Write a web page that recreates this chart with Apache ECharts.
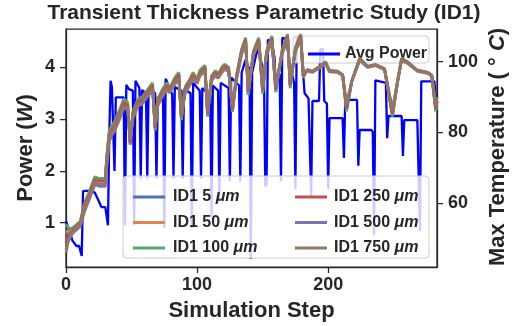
<!DOCTYPE html>
<html><head><meta charset="utf-8">
<script src="https://cdn.jsdelivr.net/npm/echarts@6/dist/echarts.min.js"></script>
<style>html,body{margin:0;padding:0;background:#fff}#c{width:517px;height:326px}</style>
</head><body><div id="c"></div><script>
const FONT = '"Liberation Sans", Arial, Helvetica, sans-serif';
const INK = '#262626';

// ---- data ----
const xTicks = [0, 100, 200];
const powerTicks = [1, 2, 3, 4];
const tempTicks = [60, 80, 100];

const powerSteps = [0,1,5,8,10,12,13,18,22,25,27,30,31,32,33,34,35,36,37,38,44,45,46,48,51,52,53,56,57,58,61,62,63,68,69,70,74,75,76,81,82,83,88,89,90,95,96,97,102,103,104,110,111,112,116,117,118,124,125,126,132,133,134,137,140,141,142,146,148,151,152,153,154,157,159,160,162,163,164,165,168,171,174,175,176,179,180,182,185,186,187,188,193,194,196,197,199,200,201,211,212,213,222,223,224,233,234,235,236,237,244,245,246,256,257,258,268,269,270,271,281,283];
const powerValues = [1.03,1.0,0.65,0.55,0.55,0.36,1.61,1.62,1.58,1.42,1.3,1.3,1.28,0.95,2.69,3.74,3.62,3.6,2.0,3.42,3.42,0.95,3.66,3.58,3.55,0.95,3.74,3.6,1.85,3.56,3.5,1.85,3.6,3.5,1.85,3.42,3.45,0.9,3.78,3.48,1.85,3.62,3.55,1.85,3.58,3.5,0.9,3.7,3.55,1.85,3.6,3.45,1.1,3.65,3.55,1.45,3.7,3.6,1.8,3.8,3.65,1.8,3.9,4.15,3.95,0.3,3.9,4.35,4.2,3.9,1.7,1.75,4.53,4.5,4.2,3.7,3.9,3.85,1.8,4.57,4.55,4.0,3.7,1.65,4.57,4.55,4.2,3.5,3.4,3.4,1.5,3.35,3.35,4.35,4.35,3.35,3.3,1.65,3.02,3.02,2.25,3.37,3.37,2.1,2.79,2.79,2.75,0.76,3.75,3.75,3.7,2.63,3.06,3.06,2.29,2.98,2.98,2.95,0.84,3.73,3.73,3.15];

const tempSteps = [0,2,5,11,14,18,22,25,30,31,33,35,37,41,44,47,49,51,55,58,62,66,68,70,74,77,79,83,86,88,91,95,97,100,102,106,108,111,114,116,119,121,124,127,130,134,137,139,143,147,150,153,157,160,165,169,171,175,179,181,184,188,194,198,201,207,211,214,218,224,230,236,243,249,253,256,261,268,276,279,282,283];

const temp5 = [51,51.5,52.6,54.6,59.5,63,67,66.5,66.5,72.3,
79.8,81.3,82.3,85.8,88.8,88,77,85.4,89,89.5,
91.5,93.5,81.1,89,92,93.5,92.2,95,96.5,84.2,
92.5,95,96.5,94.6,97,98.5,85.1,95.5,97.1,96.1,
98,98.8,98.1,86.4,95.6,103.1,106.3,91.2,102.6,106.3,
91.6,102.6,106.8,92,103.1,107.4,93.2,103.6,107.4,95.9,
97.6,97.2,98.7,99.8,97.4,97.2,96.3,86.6,94.5,100.8,
98.6,99.1,97.9,85.1,94.5,100.8,99.7,97.5,96.9,96.1,
86.6,88.8];
const temp50 = [52,52,52.8,54.8,59.7,63.2,67.2,66.7,66.7,72.6,
80,81.6,82.6,86,89,88.2,76.8,85.6,89.2,89.7,
91.7,93.7,80.9,89.2,92.2,93.7,92.3,95.2,96.7,84,
92.7,95.2,96.7,94.8,97.2,98.7,84.9,95.7,97.3,96.3,
98.2,99,98.3,86.2,95.8,103.3,106.5,91,102.8,106.5,
91.4,102.8,107,91.8,103.3,107.6,93,103.8,107.6,95.8,
97.7,97.3,98.8,99.9,97.5,97.3,96.3,86.4,94.5,100.9,
98.7,99.2,98,84.9,94.5,100.9,99.8,97.6,97,96.2,
86.4,88.7];
const temp100 = [54,53,53,55,60,63.5,67.5,67,67,73,
80.5,82,83,86.5,89.5,88.5,76.5,86,89.5,90,
92,94,80.5,89.5,92.5,94,92.5,95.5,97,83.5,
93,95.5,97,95,97.5,99,84.5,96,97.5,96.5,
98.5,99.3,98.5,85.8,96,103.5,106.8,90.6,103,106.8,
91,103,107.3,91.4,103.5,107.8,92.5,104,107.8,95.5,
97.8,97.3,98.8,100,97.5,97.3,96.3,86,94.5,101,
98.7,99.2,98,84.5,94.5,101,99.8,97.6,97,96.2,
86,88.5];
const temp250 = [49,51,52.5,54.5,59.3,62.8,66.8,66.3,66.3,72,
79.5,81,82,85.5,88.5,87.8,77,85.2,88.8,89.3,
91.3,93.3,81.3,88.8,91.8,93.3,92,94.8,96.3,84.5,
92.3,94.8,96.3,94.5,96.8,98.4,85.3,95.4,97,96,
97.8,98.7,98,86.6,95.5,103,106.2,91.5,102.5,106.2,
92,102.5,106.7,92.3,103,107.3,93.5,103.5,107.3,96,
97.7,97.2,98.7,99.8,97.4,97.2,96.3,86.8,94.5,100.8,
98.6,99.1,97.9,85.3,94.6,100.8,99.7,97.5,96.9,96.1,
86.8,89];
const temp500 = [47,49.5,51.5,53.5,57.5,61.3,65.3,64.8,64.8,70,
77.5,79.2,80.3,83.8,86.8,86.5,77.8,83.8,87.5,88,
90,92,82.3,87.5,90.5,92,91.2,93.6,95.1,85.3,
91.2,93.7,95.1,93.8,95.9,97.4,86.3,94.5,96.2,95.3,
97,97.8,97.3,87.6,94.7,102.2,105.2,92.5,101.7,105.3,
92.8,101.8,105.8,93.2,102.3,106.4,94.3,102.8,106.4,96.7,
97.4,97,98.4,99.5,97.1,97,96.1,87.8,94.4,100.4,
98.4,98.9,97.7,86.3,94.7,100.4,99.4,97.3,96.7,95.9,
87.8,89.9];
const temp750 = [46,50,52,54,58.5,62,66,65.5,65.5,71,
78.5,80,81,84.5,87.5,87,78,84.5,88,88.5,
90.5,92.5,82.5,88,91,92.5,91.5,94,95.5,85.5,
91.5,94,95.5,94,96.2,97.7,86.5,94.8,96.5,95.5,
97.2,98,97.5,87.8,95,102.5,105.5,92.6,102,105.6,
93,102,106.1,93.4,102.5,106.7,94.5,103,106.7,96.8,
97.5,97.1,98.5,99.6,97.2,97.1,96.2,88,94.5,100.5,
98.5,99,97.8,86.5,94.8,100.5,99.5,97.4,96.8,96,
88,90];

const thicknessNames = ['ID1 5 μm','ID1 50 μm','ID1 100 μm','ID1 250 μm','ID1 500 μm','ID1 750 μm'];
const tempSets = [temp5, temp50, temp100, temp250, temp500, temp750];
const tempColors = ['#4C72B0','#DD8452','#55A868','#C44E52','#8172B3','#937860'];

if (powerSteps.length !== powerValues.length) throw new Error('power length ' + powerSteps.length + ' vs ' + powerValues.length);
tempSets.forEach((t, i) => { if (t.length !== tempSteps.length) throw new Error('temp ' + i + ' length ' + t.length); });

const zip = (xs, ys) => xs.map((x, i) => [x, ys[i]]);

const chart = echarts.init(document.getElementById('c'), null, {renderer: 'canvas'});

const tickLabel = {fontSize: 18, fontWeight: 'bold', color: INK, fontFamily: FONT};
const tick = {show: true, inside: false, length: 6, lineStyle: {color: INK, width: 1.25}};
const italicRich = {i: {fontStyle: 'italic', fontWeight: 'bold', fontSize: 16, color: INK, fontFamily: FONT, lineHeight: 18}};
const legendText = {fontSize: 16, fontWeight: 'bold', color: INK, fontFamily: FONT, lineHeight: 18, padding: [0, 0, 0, 3], rich: italicRich};

const series = [{
  name: 'Avg Power', type: 'line', yAxisIndex: 0, data: zip(powerSteps, powerValues),
  color: '#0000FF', lineStyle: {width: 2.3, color: '#0000FF'}, showSymbol: false, symbol: 'none', z: 1
}];
tempSets.forEach((t, i) => {
  series.push({
    name: thicknessNames[i], type: 'line', yAxisIndex: 1, data: zip(tempSteps, t),
    color: tempColors[i], lineStyle: {width: 2.8, color: tempColors[i]}, showSymbol: false, symbol: 'none', z: 5
  });
});

const textStyleBase = (size) => ({fontSize: size, fontWeight: 'bold', fontFamily: FONT, fill: INK,
  align: 'center', verticalAlign: 'middle', textAlign: 'center', textVerticalAlign: 'middle'});

chart.setOption({
  animation: false,
  backgroundColor: '#fff',
  grid: {left: 66, right: 80, top: 29, bottom: 59, show: true, borderColor: INK, borderWidth: 1.25, backgroundColor: 'transparent'},
  xAxis: {
    type: 'value', min: 0, max: 283,
    axisLine: {show: true, lineStyle: {color: INK, width: 1.25}},
    axisTick: Object.assign({customValues: xTicks}, tick),
    axisLabel: Object.assign({customValues: xTicks, margin: 9}, tickLabel),
    splitLine: {show: false}
  },
  yAxis: [{
    type: 'value', min: 0.145, max: 4.74, position: 'left',
    axisLine: {show: true, lineStyle: {color: INK, width: 1.25}},
    axisTick: Object.assign({customValues: powerTicks}, tick),
    axisLabel: Object.assign({customValues: powerTicks, margin: 11}, tickLabel),
    splitLine: {show: false}
  }, {
    type: 'value', min: 42, max: 109.24, position: 'right',
    axisLine: {show: true, lineStyle: {color: INK, width: 1.25}},
    axisTick: Object.assign({customValues: tempTicks}, tick),
    axisLabel: Object.assign({customValues: tempTicks, margin: 11}, tickLabel),
    splitLine: {show: false}
  }],
  legend: [{
    data: ['Avg Power'], left: 303, top: 40, icon: 'rect', itemWidth: 32, itemHeight: 3,
    selectedMode: false, z: 4,
    textStyle: {fontSize: 16, fontWeight: 'bold', color: INK, fontFamily: FONT, lineHeight: 18, padding: [0, 0, 0, 0]}
  }, {
    data: thicknessNames.slice(0, 3), orient: 'vertical', left: 128, top: 183, itemGap: 7.5,
    icon: 'rect', itemWidth: 32, itemHeight: 3, selectedMode: false, z: 8,
    formatter: n => n.replace('μm', '{i|μm}'), textStyle: legendText
  }, {
    data: thicknessNames.slice(3), orient: 'vertical', left: 290, top: 183, itemGap: 7.5,
    icon: 'rect', itemWidth: 32, itemHeight: 3, selectedMode: false, z: 8,
    formatter: n => n.replace('μm', '{i|μm}'), textStyle: Object.assign({}, legendText, {padding: [0, 0, 0, 2]})
  }],
  graphic: [
    {type: 'rect', z: 3, shape: {x: 293, y: 36, width: 136, height: 27, r: 4},
      style: {fill: 'rgba(255,255,255,0.8)', stroke: '#cccccc', lineWidth: 1}},
    {type: 'rect', z: 7, shape: {x: 123, y: 176, width: 306, height: 82, r: 4},
      style: {fill: 'rgba(255,255,255,0.8)', stroke: '#cccccc', lineWidth: 1}},
    {type: 'text', z: 10, x: 264, y: 13,
      style: Object.assign(textStyleBase(21), {text: 'Transient Thickness Parametric Study (ID1)'})},
    {type: 'text', z: 10, x: 251.5, y: 311,
      style: Object.assign(textStyleBase(22), {text: 'Simulation Step'})},
    {type: 'text', z: 10, x: 26, y: 148, rotation: Math.PI / 2,
      style: Object.assign(textStyleBase(22), {text: 'Power ({i|W})',
        rich: {i: {fontStyle: 'italic', fontWeight: 'bold', fontSize: 22, fontFamily: FONT, fill: INK}}})},
    {type: 'text', z: 10, x: 498, y: 147, rotation: Math.PI / 2,
      style: Object.assign(textStyleBase(22), {text: 'Max Temperature ( ° {i|C})',
        rich: {i: {fontStyle: 'italic', fontWeight: 'bold', fontSize: 22, fontFamily: FONT, fill: INK}}})}
  ],
  series: series
});
</script></body></html>
